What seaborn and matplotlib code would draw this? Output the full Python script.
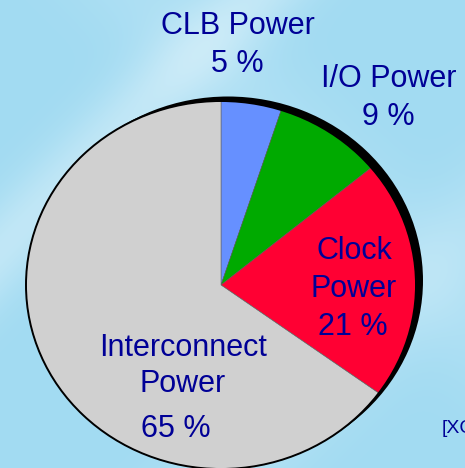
import numpy as np
import matplotlib
matplotlib.use("Agg")
import matplotlib.pyplot as plt
import seaborn as sns
from matplotlib.patches import Ellipse

# ---- data ----
categories = ["CLB Power", "I/O Power", "Clock Power", "Interconnect Power"]
shares = [5, 9, 21, 65]
slice_hex = ["#6690ff", "#00aa00", "#ff0033", "#d0d0d0"]
label_lines = [["CLB Power"], ["I/O Power"], ["Clock", "Power"], ["Interconnect", "Power"]]
source_note = "[XC"

# ---- style ----
sns.set_style("white")
plt.rcParams["font.family"] = ["Liberation Sans", "DejaVu Sans"]
colors = sns.color_palette(slice_hex)
text_color = "#000096"

W, H = 465, 468
fig = plt.figure(figsize=(W / 100, H / 100), dpi=100)

# background (decorative light-blue texture)
bg = fig.add_axes([0, 0, 1, 1], zorder=0)
yy, xx = np.mgrid[0:H, 0:W].astype(float)
base = np.array([162, 219, 242]) / 255.0
white = np.array([1.0, 1.0, 1.0])
band = 0.33 * np.exp(-((xx + yy - 250) / 55.0) ** 2)
band += 0.18 * np.exp(-((xx + yy - 700) / 70.0) ** 2)
band += 0.12 * np.exp(-((xx - yy - 150) / 80.0) ** 2)
img = base[None, None, :] * (1 - band[..., None]) + white[None, None, :] * band[..., None]
bg.imshow(img, extent=(0, W, H, 0), aspect="auto")
bg.axis("off")

# main axes in pixel units (x) with vertical squeeze to get an ellipse
ax = fig.add_axes([0, 0, 1, 1], zorder=1)
ax.patch.set_alpha(0)
rx, ry = 195.0, 184.0
sy = rx / ry
cx, cy_px = 221.0, 285.0
cy = (H - cy_px) * sy

# 3D-ish dark rim (shadow) behind the pie
ax.pie([1], colors=["black"], center=(cx + 7, cy + 4.5 * sy), radius=rx,
       startangle=90, wedgeprops=dict(linewidth=0), frame=True)
# main pie
ax.pie(shares, colors=colors, center=(cx, cy), radius=rx, startangle=90,
       counterclock=False, wedgeprops=dict(linewidth=0.4, edgecolor="#666666"),
       frame=True)
ax.add_patch(Ellipse((cx, cy), 2 * rx, 2 * rx, fill=False, ec="black", lw=1.4, zorder=5))

ax.set_aspect("auto")
ax.set_xlim(0, W)
ax.set_ylim(0, H * sy)
ax.axis("off")

# labels: (x center, baseline y) in pixels from top-left
name_pos = [
    [(238, 34)],
    [(389, 87)],
    [(354, 259), (354, 297)],
    [(183.5, 356), (183, 392)],
]
pct_pos = [(237.5, 72), (388, 125), (353, 335), (176, 437)]

fs = 22
for lines, poss, share, ppos in zip(label_lines, name_pos, shares, pct_pos):
    for txt, (px, py) in zip(lines, poss):
        ax.text(px / W, 1 - py / H, txt, transform=ax.transAxes, ha="center",
                va="baseline", fontsize=fs, color=text_color, zorder=10)
    ax.text(ppos[0] / W, 1 - ppos[1] / H, f"{share} %", transform=ax.transAxes,
            ha="center", va="baseline", fontsize=fs, color=text_color, zorder=10)

ax.text(442 / W, 1 - 433 / H, source_note, transform=ax.transAxes, ha="left",
        va="baseline", fontsize=14, color=text_color, zorder=10)

fig.savefig("out.png", dpi=100)
